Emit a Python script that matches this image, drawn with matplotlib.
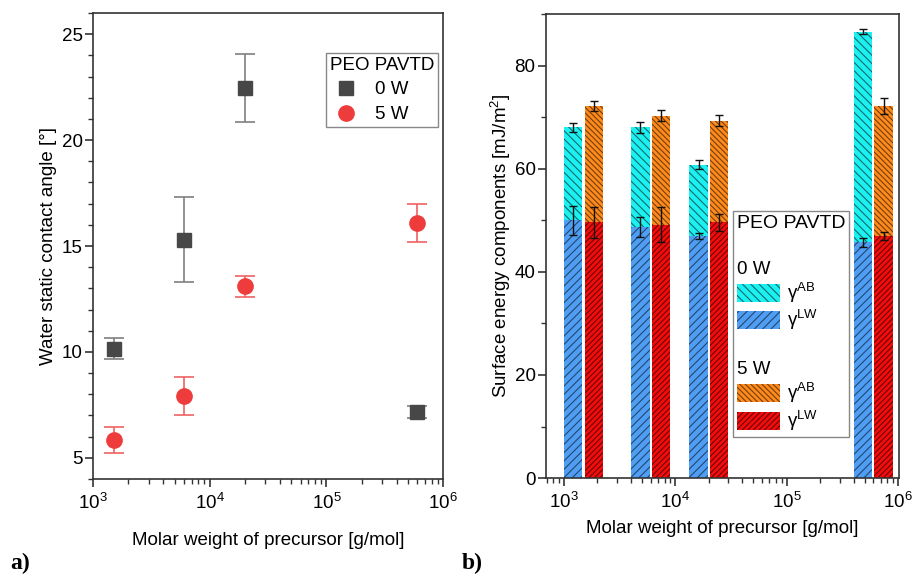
import numpy as np
import matplotlib
matplotlib.use("Agg")
import matplotlib.pyplot as plt
from matplotlib.patches import Patch
from matplotlib.ticker import MultipleLocator, LogLocator

plt.rcParams["font.family"] = ["Liberation Sans", "DejaVu Sans"]
plt.rcParams["font.size"] = 13.5
plt.rcParams["mathtext.fontset"] = "custom"
plt.rcParams["mathtext.rm"] = "Liberation Sans"
plt.rcParams["mathtext.it"] = "Liberation Sans:italic"
plt.rcParams["hatch.linewidth"] = 0.8

# molar weight of the PEO precursors [g/mol]
molar_weight = [1500, 6000, 20000, 600000]

# water static contact angle [deg] and std
angle_0w = [10.15, 15.3, 22.45, 7.15]
angle_0w_err = [0.5, 2.0, 1.6, 0.28]
angle_5w = [5.85, 7.92, 13.1, 16.1]
angle_5w_err = [0.6, 0.9, 0.5, 0.9]

# surface energy components [mJ/m^2]
lw_0w = [50.0, 48.7, 46.9, 45.7]
lw_0w_err = [2.8, 1.9, 0.6, 0.85]
ab_0w = [18.0, 19.3, 13.9, 40.9]
tot_0w_err = [0.8, 1.0, 0.9, 0.55]

lw_5w = [49.6, 49.1, 49.6, 46.9]
lw_5w_err = [3.0, 3.4, 1.6, 0.75]
ab_5w = [22.6, 21.2, 19.7, 25.3]
tot_5w_err = [0.95, 1.0, 1.1, 1.5]

spine_col = "#333333"


def style_axes(ax):
    for s in ax.spines.values():
        s.set_color(spine_col)
        s.set_linewidth(1.2)
    ax.tick_params(which="both", direction="out", colors=spine_col, labelcolor="black")
    ax.tick_params(which="major", length=6, width=1.2, pad=4)
    ax.tick_params(which="minor", length=3.5, width=1.0)
    ax.tick_params(axis="y", which="major", pad=1.5)


fig = plt.figure(figsize=(9.14, 5.76), dpi=100)
ax1 = fig.add_axes([0.1018, 0.1684, 0.383, 0.809])
ax2 = fig.add_axes([0.5974, 0.170, 0.3862, 0.8056])

# ---- a) contact angle ----
ax1.errorbar(molar_weight, angle_0w, yerr=angle_0w_err, fmt="none", ecolor="#7f7f7f",
             elinewidth=1.2, capsize=7.5, capthick=1.2)
ax1.errorbar(molar_weight, angle_5w, yerr=angle_5w_err, fmt="none", ecolor="#f06262",
             elinewidth=1.2, capsize=7.5, capthick=1.2)
h0, = ax1.plot(molar_weight, angle_0w, "s", color="#474747", markersize=9.8, label="0 W")
h5, = ax1.plot(molar_weight, angle_5w, "o", color="#ee3b3b", markersize=11, label="5 W")

ax1.set_xscale("log")
ax1.set_xlim(1e3, 1e6)
ax1.set_ylim(4, 26)
ax1.yaxis.set_major_locator(MultipleLocator(5))
ax1.yaxis.set_minor_locator(MultipleLocator(1))
ax1.xaxis.set_minor_locator(LogLocator(subs=np.arange(2, 10)))
style_axes(ax1)
ax1.set_xlabel("Molar weight of precursor [g/mol]", labelpad=14)
ax1.set_ylabel("Water static contact angle [°]", labelpad=3)

leg1 = ax1.legend(handles=[h0, h5], title="PEO PAVTD", loc="upper right",
                  bbox_to_anchor=(0.986, 0.914), alignment="left", fancybox=False,
                  edgecolor="#888888", framealpha=1, borderpad=0.2, labelspacing=0.4,
                  handlelength=1.7, handletextpad=0.7, borderaxespad=0,
                  title_fontsize=13.5)
leg1.get_frame().set_linewidth(1.0)

# ---- b) surface energy components ----
log_x = np.log10(molar_weight)
half_gap, bar_w = 0.01, 0.165
left0 = 10 ** (log_x - half_gap - bar_w)
right0 = 10 ** (log_x - half_gap)
left5 = 10 ** (log_x + half_gap)
right5 = 10 ** (log_x + half_gap + bar_w)
w0 = right0 - left0
w5 = right5 - left5

hatch_col = (0, 0, 0, 0.55)
c_ab0, c_lw0, c_ab5, c_lw5 = "#1cf0f0", "#4f9ef4", "#ff8a1c", "#f20c0c"
h_ab0, h_lw0, h_ab5, h_lw5 = "\\\\\\\\", "////", "\\" * 6, "/" * 6

ax2.bar(left0, lw_0w, width=w0, align="edge", color=c_lw0, edgecolor=hatch_col,
        linewidth=0, hatch=h_lw0)
ax2.bar(left0, ab_0w, width=w0, bottom=lw_0w, align="edge", color=c_ab0,
        edgecolor=hatch_col, linewidth=0, hatch=h_ab0)
ax2.bar(left5, lw_5w, width=w5, align="edge", color=c_lw5, edgecolor=hatch_col,
        linewidth=0, hatch=h_lw5)
ax2.bar(left5, ab_5w, width=w5, bottom=lw_5w, align="edge", color=c_ab5,
        edgecolor=hatch_col, linewidth=0, hatch=h_ab5)

mid0 = np.sqrt(left0 * right0)
mid5 = np.sqrt(left5 * right5)
err_kw = dict(fmt="none", ecolor="#111111", elinewidth=1.0, capsize=3.2, capthick=1.0)
ax2.errorbar(mid0, lw_0w, yerr=lw_0w_err, **err_kw)
ax2.errorbar(mid0, np.add(lw_0w, ab_0w), yerr=tot_0w_err, **err_kw)
ax2.errorbar(mid5, lw_5w, yerr=lw_5w_err, **err_kw)
ax2.errorbar(mid5, np.add(lw_5w, ab_5w), yerr=tot_5w_err, **err_kw)

ax2.set_xscale("log")
ax2.set_xlim(690, 1.02e6)
ax2.set_ylim(0, 90)
ax2.yaxis.set_major_locator(MultipleLocator(20))
ax2.yaxis.set_minor_locator(MultipleLocator(10))
ax2.xaxis.set_minor_locator(LogLocator(subs=np.arange(2, 10)))
style_axes(ax2)
ax2.set_xlabel("Molar weight of precursor [g/mol]", labelpad=6)
ax2.set_ylabel("Surface energy components [mJ/m$^2$]", labelpad=1)


def leg_patch(fc, hatch):
    return Patch(facecolor=fc, edgecolor=hatch_col, linewidth=0, hatch=hatch)


blank = Patch(facecolor="none", edgecolor="none")
handles = [blank, blank, leg_patch(c_ab0, h_ab0), leg_patch(c_lw0, h_lw0),
           blank, blank, leg_patch(c_ab5, h_ab5), leg_patch(c_lw5, h_lw5)]
g_ab = r"$\mathregular{\gamma^{AB}}$"
g_lw = r"$\mathregular{\gamma^{LW}}$"
labels = ["", "0 W", g_ab, g_lw, "", "5 W", g_ab, g_lw]
hl, htp = 2.3, 0.4
leg2 = ax2.legend(handles, labels, title="PEO PAVTD", loc="upper left",
                  bbox_to_anchor=(0.53, 0.575), alignment="left", fancybox=False,
                  edgecolor="#888888", framealpha=1, borderpad=0.2, labelspacing=0.18,
                  handlelength=hl, handleheight=1.1, handletextpad=htp, borderaxespad=0,
                  title_fontsize=14)
leg2.get_frame().set_linewidth(1.0)
# header rows ("0 W", "5 W") start at the patch column
shift_px = (hl + htp) * 13.5 * fig.dpi / 72
for i in (1, 5):
    leg2.get_texts()[i].set_x(-shift_px)

fig.text(0.011, 0.012, "a)", family=["Liberation Serif", "DejaVu Serif"],
         fontweight="bold", fontsize=17)
fig.text(0.505, 0.012, "b)", family=["Liberation Serif", "DejaVu Serif"],
         fontweight="bold", fontsize=17)

fig.savefig("out.png", dpi=100)
